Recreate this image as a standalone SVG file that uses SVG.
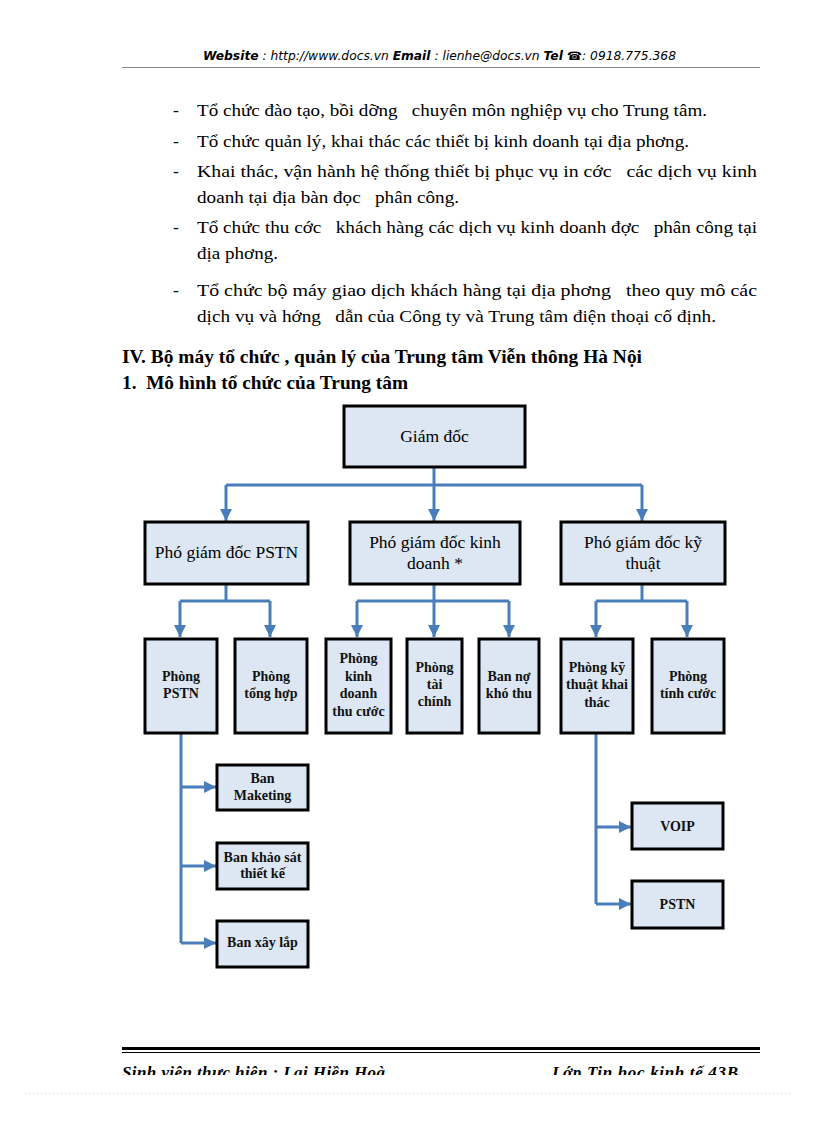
<svg xmlns="http://www.w3.org/2000/svg" width="816" height="1123" viewBox="0 0 816 1123">
<defs>
<marker id="ah" markerUnits="userSpaceOnUse" markerWidth="14" markerHeight="14" refX="12" refY="6" orient="auto">
<path d="M0,0 L12,6 L0,12 Z" fill="#4a7ebb"/>
</marker>
<clipPath id="footclip"><rect x="0" y="1058" width="816" height="17"/></clipPath>
</defs>
<style>
.hdr{font-family:"DejaVu Sans",Verdana,sans-serif;font-size:11.5px;font-style:italic;fill:#000}
.hb{font-weight:bold}
.body{font-family:"Liberation Serif","Times New Roman",serif;font-size:17.5px;fill:#000;white-space:pre}
.head{font-family:"Liberation Serif","Times New Roman",serif;font-size:19px;font-weight:bold;fill:#000;white-space:pre}
.box{fill:#dde7f3;stroke:#000;stroke-width:3}
.t1{font-family:"Liberation Serif","Times New Roman",serif;font-size:17.5px;fill:#000;text-anchor:middle}
.t2{font-family:"Liberation Serif","Times New Roman",serif;font-size:14px;font-weight:bold;fill:#111;text-anchor:middle}
.conn{fill:none;stroke:#4a7ebb;stroke-width:3}
.foot{font-family:"Liberation Serif","Times New Roman",serif;font-size:17px;font-weight:bold;font-style:italic;fill:#000}
</style>
<rect width="816" height="1123" fill="#fff"/>

<!-- header -->
<text class="hdr" x="203" y="60" textLength="473" lengthAdjust="spacingAndGlyphs"><tspan class="hb">Website</tspan> : http://www.docs.vn  <tspan class="hb">Email</tspan>   : lienhe@docs.vn    <tspan class="hb">Tel</tspan> <tspan class="hb">☎</tspan>: 0918.775.368</text>
<line x1="122" y1="67.5" x2="760" y2="67.5" stroke="#888" stroke-width="1"/>

<!-- body text -->
<g id="bullets">
<text class="body" x="173" y="116">-</text>
<text class="body" x="197" y="116" textLength="510" lengthAdjust="spacingAndGlyphs">Tổ chức đào tạo, bồi dỡng   chuyên môn nghiệp vụ cho Trung tâm.</text>
<text class="body" x="173" y="147">-</text>
<text class="body" x="197" y="147" textLength="492" lengthAdjust="spacingAndGlyphs">Tổ chức quản lý, khai thác các thiết bị kinh doanh tại địa phơng.</text>
<text class="body" x="173" y="177">-</text>
<text class="body" x="197" y="177" textLength="560" lengthAdjust="spacingAndGlyphs">Khai thác, vận hành hệ thống thiết bị phục vụ in cớc   các dịch vụ kinh</text>
<text class="body" x="197" y="203" textLength="262" lengthAdjust="spacingAndGlyphs">doanh tại địa bàn đọc   phân công.</text>
<text class="body" x="173" y="233">-</text>
<text class="body" x="197" y="233" textLength="560" lengthAdjust="spacingAndGlyphs">Tổ chức thu cớc   khách hàng các dịch vụ kinh doanh đợc   phân công tại</text>
<text class="body" x="197" y="259" textLength="81" lengthAdjust="spacingAndGlyphs">địa phơng.</text>
<text class="body" x="173" y="296">-</text>
<text class="body" x="197" y="296" textLength="560" lengthAdjust="spacingAndGlyphs">Tổ chức bộ máy giao dịch khách hàng tại địa phơng   theo quy mô các</text>
<text class="body" x="197" y="322" textLength="519" lengthAdjust="spacingAndGlyphs">dịch vụ và hớng   dẫn của Công ty và Trung tâm điện thoại cố định.</text>
</g>

<text class="head" x="122" y="363" textLength="520" lengthAdjust="spacingAndGlyphs">IV. Bộ máy tổ chức , quản lý của Trung tâm Viễn thông Hà Nội</text>
<text class="head" x="122" y="389" textLength="286" lengthAdjust="spacingAndGlyphs">1.  Mô hình tổ chức của Trung tâm</text>

<!-- connectors -->
<g id="connectors">
<path class="conn" d="M434,468 V485"/>
<path class="conn" d="M226,485 H642"/>
<path class="conn" d="M226,485 V521" marker-end="url(#ah)"/>
<path class="conn" d="M434,485 V521" marker-end="url(#ah)"/>
<path class="conn" d="M642,485 V521" marker-end="url(#ah)"/>

<path class="conn" d="M226,585 V601 M180,601 H270"/>
<path class="conn" d="M180,601 V637" marker-end="url(#ah)"/>
<path class="conn" d="M270,601 V637" marker-end="url(#ah)"/>

<path class="conn" d="M434,585 V601 M357,601 H509"/>
<path class="conn" d="M357,601 V637" marker-end="url(#ah)"/>
<path class="conn" d="M434,601 V637" marker-end="url(#ah)"/>
<path class="conn" d="M509,601 V637" marker-end="url(#ah)"/>

<path class="conn" d="M642,585 V601 M596,601 H687"/>
<path class="conn" d="M596,601 V637" marker-end="url(#ah)"/>
<path class="conn" d="M687,601 V637" marker-end="url(#ah)"/>

<path class="conn" d="M181,734 V943"/>
<path class="conn" d="M181,787 H216" marker-end="url(#ah)"/>
<path class="conn" d="M181,866 H216" marker-end="url(#ah)"/>
<path class="conn" d="M181,943 H216" marker-end="url(#ah)"/>

<path class="conn" d="M596,734 V904"/>
<path class="conn" d="M596,827 H631" marker-end="url(#ah)"/>
<path class="conn" d="M596,904 H631" marker-end="url(#ah)"/>
</g>

<!-- nodes -->
<g id="giam-doc"><rect class="box" x="344" y="406" width="181" height="61"/><text class="t1" x="434.5" y="442">Giám đốc</text></g>

<g id="pgd-pstn"><rect class="box" x="145" y="522" width="163" height="62"/><text class="t1" x="226.5" y="558">Phó giám đốc PSTN</text></g>
<g id="pgd-kd"><rect class="box" x="350" y="522" width="170" height="62"/><text class="t1" x="435" y="548">Phó giám đốc kinh</text><text class="t1" x="435" y="569">doanh *</text></g>
<g id="pgd-kt"><rect class="box" x="561" y="522" width="164" height="62"/><text class="t1" x="643" y="548">Phó giám đốc kỹ</text><text class="t1" x="643" y="569">thuật</text></g>

<g id="phong-pstn"><rect class="box" x="145" y="639" width="72" height="94"/><text class="t2" x="181" y="681">Phòng</text><text class="t2" x="181" y="698">PSTN</text></g>
<g id="phong-tong-hop"><rect class="box" x="235" y="639" width="72" height="94"/><text class="t2" x="271" y="681">Phòng</text><text class="t2" x="271" y="698">tổng hợp</text></g>
<g id="phong-kd-thu-cuoc"><rect class="box" x="326" y="639" width="65" height="94"/><text class="t2" x="358.5" y="663">Phòng</text><text class="t2" x="358.5" y="681">kinh</text><text class="t2" x="358.5" y="698">doanh</text><text class="t2" x="358.5" y="716">thu cước</text></g>
<g id="phong-tai-chinh"><rect class="box" x="407" y="639" width="55" height="94"/><text class="t2" x="434.5" y="672">Phòng</text><text class="t2" x="434.5" y="689">tài</text><text class="t2" x="434.5" y="706">chính</text></g>
<g id="ban-no-kho-thu"><rect class="box" x="479" y="639" width="60" height="94"/><text class="t2" x="509" y="681">Ban nợ</text><text class="t2" x="509" y="698">khó thu</text></g>
<g id="phong-kt-khai-thac"><rect class="box" x="561" y="639" width="72" height="94"/><text class="t2" x="597" y="672">Phòng kỹ</text><text class="t2" x="597" y="689">thuật khai</text><text class="t2" x="597" y="707">thác</text></g>
<g id="phong-tinh-cuoc"><rect class="box" x="652" y="639" width="72" height="94"/><text class="t2" x="688" y="681">Phòng</text><text class="t2" x="688" y="698">tính cước</text></g>

<g id="ban-maketing"><rect class="box" x="217" y="765" width="91" height="45"/><text class="t2" x="262.5" y="783">Ban</text><text class="t2" x="262.5" y="800">Maketing</text></g>
<g id="ban-khao-sat"><rect class="box" x="217" y="843" width="91" height="46"/><text class="t2" x="262.5" y="862">Ban khảo sát</text><text class="t2" x="262.5" y="878">thiết kế</text></g>
<g id="ban-xay-lap"><rect class="box" x="217" y="921" width="91" height="46"/><text class="t2" x="262.5" y="947">Ban xây lắp</text></g>

<g id="voip"><rect class="box" x="632" y="803" width="91" height="46"/><text class="t2" x="677.5" y="831">VOIP</text></g>
<g id="pstn"><rect class="box" x="632" y="881" width="91" height="47"/><text class="t2" x="677.5" y="909">PSTN</text></g>

<!-- footer -->
<line x1="122" y1="1048.5" x2="760" y2="1048.5" stroke="#000" stroke-width="3"/>
<line x1="122" y1="1052.5" x2="760" y2="1052.5" stroke="#000" stroke-width="1"/>
<g clip-path="url(#footclip)">
<text class="foot" x="122" y="1078" textLength="263">Sinh viên thực hiện : Lại Hiền Hoà</text>
<text class="foot" x="552" y="1078" textLength="186">Lớp Tin học kinh tế 43B</text>
</g>
<line x1="25" y1="1093.5" x2="792" y2="1093.5" stroke="#ccc" stroke-width="1" stroke-dasharray="1,3"/>
</svg>
